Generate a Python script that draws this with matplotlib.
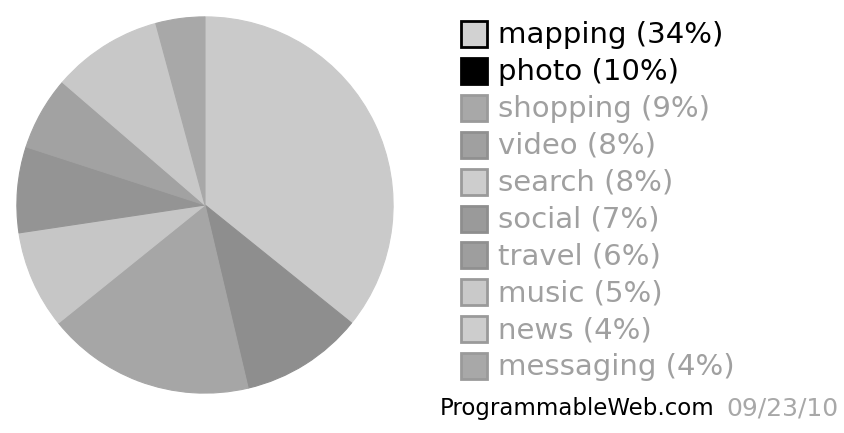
import matplotlib
matplotlib.use('Agg')
import matplotlib.pyplot as plt
from matplotlib.patches import Rectangle

# API categories and their share (as printed in the legend)
categories = ['mapping', 'photo', 'shopping', 'video', 'search',
              'social', 'travel', 'music', 'news', 'messaging']
shares = [34, 10, 9, 8, 8, 7, 6, 5, 4, 4]

# greyscale look of the scanned chart
wedge_colors = ['#cacaca', '#8e8e8e', '#a6a6a6', '#a6a6a6', '#c6c6c6',
                '#949494', '#a2a2a2', '#c8c8c8', '#c8c8c8', '#a8a8a8']
box_colors = ['#d2d2d2', '#000000', '#a8a8a8', '#a0a0a0', '#cdcdcd',
              '#9a9a9a', '#9e9e9e', '#c9c9c9', '#cdcdcd', '#a8a8a8']
box_edges = ['#000000', '#000000', '#9a9a9a', '#909090', '#9a9a9a',
             '#8e8e8e', '#909090', '#9a9a9a', '#9a9a9a', '#9a9a9a']
label_colors = ['#000000', '#000000'] + ['#a0a0a0'] * 8

source = 'ProgrammableWeb.com'
date = '09/23/10'

W, H = 844, 433
fig = plt.figure(figsize=(W / 100, H / 100), dpi=100)

# pie, centre ~(205, 205) px, radius ~190 px
r = 190
cx, cy = 205, 205
ax = fig.add_axes([(cx - r) / W, (H - cy - r) / H, 2 * r / W, 2 * r / H])
wedges, _ = ax.pie(shares, colors=wedge_colors, startangle=90,
                   counterclock=False, radius=1.0)
for w in wedges:
    # hide the antialiasing seam between equal greys
    w.set_edgecolor(w.get_facecolor())
    w.set_linewidth(0.8)
ax.set_xlim(-1.01, 1.01)
ax.set_ylim(-1.01, 1.01)
ax.set_aspect('equal')
ax.axis('off')

# legend drawn in pixel coordinates
lax = fig.add_axes([0, 0, 1, 1])
lax.set_xlim(0, W)
lax.set_ylim(H, 0)
lax.axis('off')

y0, dy = 34, 36.9
for i, (cat, pct) in enumerate(zip(categories, shares)):
    y = y0 + i * dy
    lax.add_patch(Rectangle((461, y - 13), 26, 26, facecolor=box_colors[i],
                            edgecolor=box_edges[i], linewidth=2))
    lax.text(498, y + 1, '%s (%d%%)' % (cat, pct), fontsize=21,
             color=label_colors[i], va='center', ha='left')

lax.text(440, 408, source, fontsize=16.5, color='black', va='center',
         ha='left')
lax.text(839, 408, date, fontsize=18, color='#a8a8a8', va='center',
         ha='right')

fig.savefig('out.png', dpi=100)
